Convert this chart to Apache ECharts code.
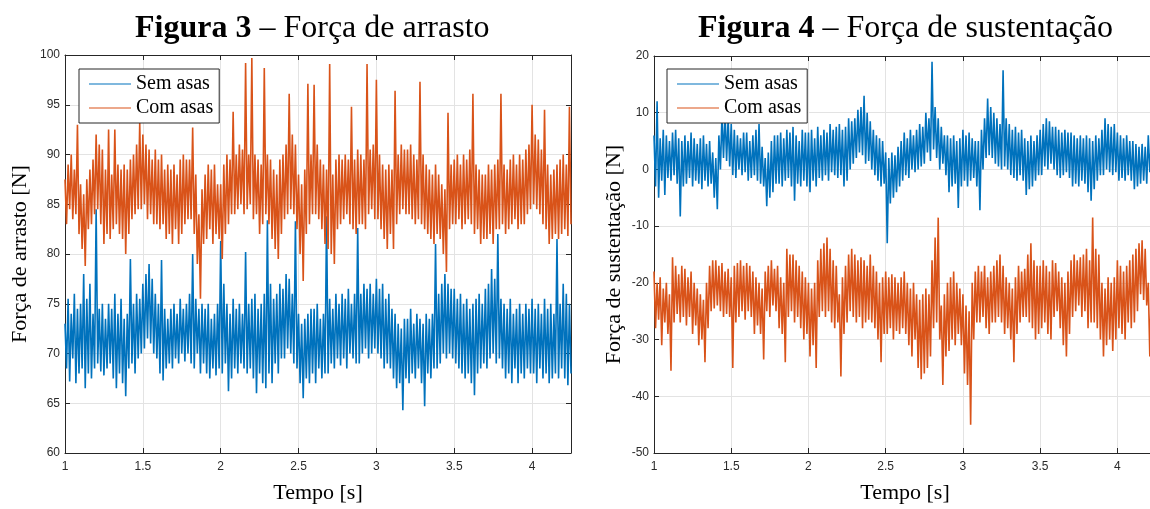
<!DOCTYPE html>
<html>
<head>
<meta charset="utf-8">
<script src="https://cdn.jsdelivr.net/npm/echarts@6/dist/echarts.min.js"></script>
<style>
  html, body { margin: 0; padding: 0; background: #fff; overflow: hidden; }
  #chart { width: 1160px; height: 509px; }
</style>
</head>
<body>
<div id="chart"></div>
<script>
// amostragem: t = 1.00 s, passo 0.01 s (uma linha = 0.1 s)
const tStart = 1.0;
const tStep = 0.01;

const seriesNames = ["Sem asas", "Com asas"];

// Figura 3 – força de arrasto [N]
const dragSemAsas = [
  73, 68.5, 75.5, 67.2, 74, 69.5, 76, 67, 74.5, 68,
  75, 68.5, 78, 66.5, 75.5, 68, 77, 67.5, 74, 68.5,
  84.5, 69, 74.5, 68.2, 75, 67.8, 73.5, 68.5, 75, 69,
  74.5, 67.5, 76, 66.5, 74, 68, 75.5, 67, 73.5, 65.7,
  74, 68.5, 79.5, 69, 75, 68, 76, 69.5, 75.5, 70,
  77, 70.5, 78, 71.5, 79, 71, 77.5, 70, 76, 69.5,
  75, 68, 79.4, 67.3, 74.5, 68.5, 73.5, 69, 74.5, 68.5,
  75, 69.5, 74, 69, 75.5, 70, 74.5, 69.2, 75, 70,
  76, 69, 80, 68.5, 75.5, 70, 74.5, 68, 75, 69,
  74.5, 68, 75, 67.5, 73.5, 68.5, 74, 67.8, 75, 68.5,
  81.3, 68, 77, 69, 75, 66.2, 74, 67.5, 75.5, 68.5,
  74.5, 68, 75, 69, 74, 68.5, 80.2, 68, 75, 68.5,
  75.5, 67.5, 76, 66, 74.5, 68, 75, 67, 76, 66.5,
  83.4, 68, 77, 67, 75.5, 69, 76, 68, 77, 69.5,
  76.5, 69.5, 78, 70.5, 77.5, 70, 76, 69, 83.3, 68.5,
  74, 67, 73, 65.5, 73.5, 67.5, 74, 67, 74.5, 68,
  74.5, 67, 75, 68.5, 73.5, 67.5, 74, 68, 83.8, 68,
  75.5, 69, 74.5, 68.5, 76, 69.5, 75, 68.8, 76, 69.5,
  75.5, 68.5, 76.5, 70, 75, 69.5, 76, 69, 82.6, 69,
  76, 70, 77, 70.5, 76.5, 69.5, 77, 70, 76, 70.5,
  77.5, 70, 76.5, 69.5, 77, 68.5, 75.5, 69, 76, 68.5,
  74.5, 67.5, 74, 66.5, 73, 67, 72.5, 64.3, 73.5, 67.5,
  73.5, 67, 74.5, 68, 73, 67.5, 74, 68.5, 73.5, 67,
  73, 64.7, 74, 68, 73.5, 67.5, 74, 68.5, 81, 68.5,
  76, 69, 77, 70, 78, 69.5, 77, 70, 76.5, 69.5,
  76.5, 69, 75.5, 68.5, 76, 68, 75, 67.5, 75.5, 68,
  74.5, 67, 75, 65.8, 75.5, 68, 76, 68.5, 75, 69,
  76.5, 68.5, 77, 69.5, 78.5, 70, 77.5, 69, 82, 69.5,
  75.5, 68.5, 75, 67.5, 74.5, 68, 75.5, 67, 74, 68.5,
  74.5, 67, 75, 68, 74, 67.5, 75, 68.5, 74.5, 68,
  75.5, 68, 74.5, 67, 75, 68.5, 74, 67.5, 75.5, 68,
  74.5, 67, 75, 67.5, 74, 68, 81.5, 67.5, 75, 68.5,
  77, 67.5, 76, 66.8, 75, 68
];
const dragComAsas = [
  87.5, 83, 89, 84.5, 90, 83.5, 88.5, 84, 93, 82,
  87, 80.5, 86, 78.8, 87.5, 82.5, 88.5, 83, 89.5, 84,
  92, 84.5, 91, 83, 90.5, 81, 88.5, 82, 92.5, 81.5,
  88, 82.5, 92.5, 83, 89, 82, 88.5, 81.5, 89, 80,
  88.5, 82, 89.5, 83.5, 90, 84, 91, 84.5, 93.2, 84.5,
  92, 85, 91, 83.5, 90.5, 84, 89.5, 83, 90.5, 83,
  89.5, 82.5, 90, 83, 88.5, 81.5, 89, 82, 88.5, 81,
  89, 82.5, 88, 81, 89.5, 82, 90, 83, 89.5, 83.5,
  89.5, 83.5, 92.7, 82, 88, 79, 84, 75.5, 86.5, 81,
  88, 81.5, 89, 82.5, 88.5, 81, 89, 82, 87, 81.5,
  87, 79.5, 89, 82, 90, 83, 89.5, 84, 94.3, 84,
  90, 84.5, 91, 85, 90.5, 84, 99.2, 84.5, 90, 85,
  99.7, 83.5, 90, 84, 89.5, 82, 89, 83, 98.7, 84,
  90, 83, 89.5, 81.5, 88.5, 80.5, 88, 79.5, 89.5, 82,
  90, 83.5, 91, 84, 96.1, 84.5, 92, 84, 91, 82.5,
  88, 80, 87, 77.3, 88.5, 82, 97.1, 83, 90, 84,
  97, 84, 91, 83.5, 89.5, 82.5, 89, 81, 88.5, 80.5,
  99.1, 80, 88, 79, 89.5, 82.5, 90, 83, 89.5, 83.5,
  90, 84, 89.5, 83, 94.8, 82.5, 89.5, 82, 90.5, 83,
  90, 83, 89.5, 82.5, 99.1, 84, 90.5, 84.5, 91, 83.5,
  97.5, 83.5, 90, 82.5, 89, 81.5, 88.5, 80.5, 89, 82,
  88.5, 80.5, 96.4, 83, 90, 84, 91, 84.5, 90.5, 84,
  90.5, 84, 91, 83.5, 90, 83, 89.5, 83.5, 97.3, 83,
  90, 82.5, 89, 82, 88.5, 81.5, 88, 81, 89, 82,
  88, 81.5, 87, 80, 86.5, 78.2, 94.2, 82.5, 89, 83,
  89.5, 83, 90, 83.5, 89, 82.5, 90, 83, 89.5, 83.5,
  90.5, 83, 96.1, 82, 89, 82.5, 88.5, 81, 88, 81.5,
  88, 81.5, 89, 82, 88.5, 81, 89, 82.5, 89.5, 82.5,
  96.1, 83, 89, 82, 88.5, 82.5, 89.5, 83, 90, 83.5,
  89, 82.5, 90, 83, 89.5, 83, 90.5, 84, 91, 84.5,
  95, 85, 92, 84.5, 91.5, 84, 90.5, 83, 94.5, 82.5,
  89, 81, 88, 81.5, 88.5, 82, 89, 81.5, 89.5, 82,
  90, 82.5, 89, 81.8, 94.8, 83
];

// Figura 4 – força de sustentação [N]
const liftSemAsas = [
  6, -3, 12, -5, 5.5, -2, 7, -4.5, 6, -1.5,
  5, -2, 6.5, -1, 7, -2.5, 5.5, -8.3, 5, -3,
  6, -2.5, 5, -1.5, 6.5, -3, 5.5, -2, 4.5, -2.5,
  5.5, -3.5, 6, -2, 4.5, -3, 5, -2.5, 3, -5,
  2, -7, 6, 0, 9.5, 2, 10, 1.5, 9, 0.5,
  8, -1, 7, -1.5, 6, 0, 5.5, -1, 6.5, -0.5,
  6.5, -2, 5, -1.5, 6, -1, 7, -2, 8, -2.5,
  4, -3, 2, -6.5, 3, -5, 5, -4, 6, -2.5,
  6, -2.5, 6.5, -3, 5.5, -2, 7, -1.5, 6.5, -3,
  7.5, -5.5, 6, -2.5, 5, -3, 7, -2, 6.5, -3,
  6.5, -4, 7, -2, 5.5, -3, 7.5, -1.5, 6, -2,
  7, -1, 6.5, -2, 8, -0.5, 7, -1, 7.5, -1.5,
  8, -1, 7, -3, 7.5, -2, 9, 0, 8.5, 1,
  9, 2, 10.5, 3, 11, 2.5, 13, 1, 10, 1.5,
  8.5, 0, 7, -1, 6, -2, 5.5, -3, 5, -2.5,
  3, -13, 2, -6, 3, -5, 2.5, -4, 4, -3,
  5, -2, 6.5, -1, 5.5, -1.5, 7, 0, 6, -0.5,
  7, 0, 8, 0.5, 7.5, 1, 10, 3, 9, 1.5,
  19, 3.5, 11, 2, 9, 0, 7.5, 1, 6, -1,
  6, -4, 5.5, -3, 6, -2.5, 5, -6.8, 5.5, -3,
  7, -2, 6, -3, 6.5, -2, 5.5, -1.5, 5, -3,
  5, -7.2, 7, 0, 9, 2, 12.5, 2.5, 11, 2,
  10, 1, 9, 0.5, 8, 0, 17.5, 0.5, 9, 0,
  8, -1, 7, -1.5, 7.5, -2, 6.5, -1, 7, -2,
  5.5, -4.5, 5, -3.5, 6, -3, 5, -2, 6, -1,
  7, -1, 8, 0.5, 9, 0, 8.5, 1, 7.5, 0,
  7.5, -1, 7, -1.5, 6.5, -1, 7, -0.5, 6.5, -1.5,
  6.5, -3, 6, -2.5, 5.5, -3, 6, -2, 5.5, -2.5,
  6, -4, 5.5, -5.5, 5, -3.5, 6, -2, 5.5, -1,
  7, -1, 9, 0, 8, -0.5, 7.5, -1, 8, -0.5,
  6.5, -2, 6, -1.5, 5.5, -2, 6, -1, 5, -2,
  5, -3.5, 4.5, -3, 4, -2.5, 4.5, -2, 4, -2.5,
  6, -0.5, 5, -1, 4, 0
];
const liftComAsas = [
  -18, -28, -20, -26.5, -19, -31, -21, -27, -20, -29,
  -22, -35.5, -15.5, -27, -17, -25.5, -18.5, -27, -17, -26,
  -17.5, -27.5, -19, -26, -18, -29, -20, -27.5, -21, -31,
  -22, -30, -23, -34, -20, -28, -17, -25, -16, -24.5,
  -16, -24, -17, -25, -16.5, -26, -18, -25.5, -17.5, -26,
  -19, -35, -17, -27, -16.5, -26, -16, -25, -17, -26.5,
  -16.5, -25, -17, -26, -18, -29, -19, -27.5, -20, -29,
  -21, -33.5, -18, -25, -17, -26, -16, -24, -17.5, -25,
  -17, -28, -19, -29, -20, -34, -14, -26, -15, -25,
  -15, -27, -16, -26, -17, -28, -18, -30, -19, -29,
  -20, -33, -21, -31, -20, -35, -16, -26, -14, -25,
  -13, -26, -12, -25, -14, -27, -16, -28, -17, -27,
  -22, -36.5, -19, -29, -17, -27, -15, -25, -14, -26,
  -15, -27, -16, -26, -15.5, -28, -16, -27, -17, -26.5,
  -15, -27, -17, -28, -18, -30, -20, -34, -19, -29,
  -18, -29, -19, -28, -18.5, -30, -19, -28.5, -20, -29,
  -19, -28, -18, -29, -20, -31, -21, -33, -20, -30,
  -22, -35, -23, -37, -22, -36, -21, -35, -22, -33,
  -16, -28, -12, -27, -8.5, -30, -24, -38, -22, -33,
  -20, -32, -19, -30, -18, -31, -20, -29, -21, -31,
  -22, -36, -24, -38, -25, -45, -20, -30, -18, -27,
  -17, -27, -18, -26, -17, -28, -19, -29, -18, -27,
  -17, -27, -16, -26, -15, -27, -17, -29, -19, -28,
  -20, -30, -21, -34, -19, -29, -17, -27, -18, -26,
  -17.5, -26, -15, -27, -13, -28, -16, -30, -17, -29,
  -17, -28, -16, -27, -17, -29, -18, -30, -16, -26,
  -16.5, -25, -18, -28, -19, -31, -20, -33, -18, -29,
  -16, -26, -15, -25, -16, -24, -15.5, -26, -15, -25,
  -14, -28, -16, -27, -8.5, -27, -14, -28, -15, -30,
  -20, -33, -21, -31, -19, -30, -20, -32, -19, -30,
  -16, -28, -17, -29, -18, -30, -17, -27, -16, -28,
  -15, -27, -14, -25, -13, -22, -12.5, -23, -14, -24,
  -20, -33, -21, -31, -20, -30
];

const BLUE = "#0072BD";
const ORANGE = "#D95319";
const SERIF = "'Liberation Serif', 'Times New Roman', serif";
const SANS = "'Liberation Sans', Arial, sans-serif";

// [tempo, valor]
const toPairs = (values) =>
  values.map((v, i) => [+(tStart + i * tStep).toFixed(2), v]);

const chart = echarts.init(document.getElementById("chart"), null, { renderer: "canvas" });

const grids = [
  { left: 65, top: 55, width: 506, height: 404 },
  { left: 654, top: 56, width: 502, height: 402 },
];

const axisLineStyle = { onZero: false, lineStyle: { color: "#262626", width: 1 } };
const tickStyle = { inside: true, length: 5, lineStyle: { color: "#262626" } };
const splitStyle = { show: true, lineStyle: { color: "#e3e3e3", width: 1 } };
const labelStyle = { fontFamily: SANS, fontSize: 12, color: "#2b2b2b" };

function xAxes(gridIndex) {
  return [
    {
      type: "value", gridIndex, min: 1, max: 4.25, interval: 0.5,
      name: "Tempo [s]", nameLocation: "middle", nameGap: 29,
      nameTextStyle: { fontFamily: SERIF, fontSize: 22, color: "#000" },
      axisLine: axisLineStyle, axisTick: tickStyle, splitLine: splitStyle,
      axisLabel: { ...labelStyle, margin: 8, showMaxLabel: false },
    },
    {
      type: "value", gridIndex, position: "top", min: 1, max: 4.25, interval: 0.5,
      axisLine: axisLineStyle, axisTick: tickStyle,
      splitLine: { show: false }, axisLabel: { show: false },
    },
  ];
}

function yAxes(gridIndex, min, max, interval, name, nameGap) {
  return [
    {
      type: "value", gridIndex, min, max, interval,
      name, nameLocation: "middle", nameGap,
      nameTextStyle: { fontFamily: SERIF, fontSize: 22, color: "#000" },
      axisLine: axisLineStyle, axisTick: tickStyle, splitLine: splitStyle,
      axisLabel: { ...labelStyle, margin: 5 },
    },
    {
      type: "value", gridIndex, position: "right", min, max, interval,
      axisLine: axisLineStyle, axisTick: tickStyle,
      splitLine: { show: false }, axisLabel: { show: false },
    },
  ];
}

function lineSeries(name, color, xAxisIndex, yAxisIndex, values) {
  return {
    name, type: "line", xAxisIndex, yAxisIndex,
    data: toPairs(values),
    symbol: "none",
    lineStyle: { color, width: 1.6 },
    itemStyle: { color },
    emphasis: { disabled: true },
  };
}

function legendAt(left, top) {
  return {
    left, top, orient: "vertical",
    data: seriesNames,
    icon: "rect", itemWidth: 42, itemHeight: 1, itemGap: 4,
    padding: [5, 6, 5, 10],
    borderColor: "#262626", borderWidth: 1, backgroundColor: "#fff",
    textStyle: { fontFamily: SERIF, fontSize: 20, color: "#000" },
    selectedMode: false,
  };
}

const titleStyle = {
  fontFamily: SERIF, fontSize: 32, fontWeight: "normal", color: "#000",
  rich: { b: { fontFamily: SERIF, fontSize: 32, fontWeight: "bold", color: "#000" } },
};

chart.setOption({
  animation: false,
  backgroundColor: "#fff",
  title: [
    { text: "{b|Figura 3} – Força de arrasto", left: 135, top: 13, padding: 0, textStyle: titleStyle },
    { text: "{b|Figura 4} – Força de sustentação", left: 698, top: 13, padding: 0, textStyle: titleStyle },
  ],
  grid: grids,
  xAxis: [...xAxes(0), ...xAxes(1)],
  yAxis: [
    ...yAxes(0, 60, 100, 5, "Força de arrasto [N]", 34),
    ...yAxes(1, -50, 20, 10, "Força de sustentação [N]", 29),
  ],
  legend: [legendAt(79, 69), legendAt(667, 69)],
  series: [
    lineSeries("Sem asas", BLUE, 0, 0, dragSemAsas),
    lineSeries("Com asas", ORANGE, 0, 0, dragComAsas),
    lineSeries("Sem asas", BLUE, 2, 2, liftSemAsas),
    lineSeries("Com asas", ORANGE, 2, 2, liftComAsas),
  ],
});
</script>
</body>
</html>
